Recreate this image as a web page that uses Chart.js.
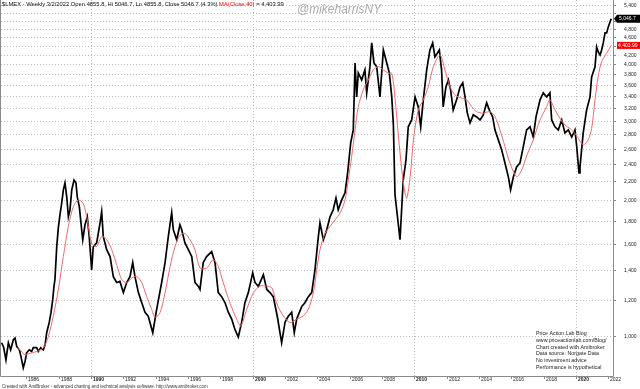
<!DOCTYPE html>
<html>
<head>
<meta charset="utf-8">
<script src="https://cdn.jsdelivr.net/npm/chart.js@4.4.1/dist/chart.umd.min.js"></script>
<style>
  html, body { margin: 0; padding: 0; background: #fff; }
  canvas { display: block; }
</style>
</head>
<body>
<canvas id="lmex-chart" width="640" height="389"></canvas>
<script>
// $LMEX weekly close, decimal years
const priceDates = [
  1984.47, 1984.59, 1984.74, 1984.89, 1985.03, 1985.20, 1985.30, 1985.41, 1985.57, 1985.67,
  1985.81, 1985.92, 1986.02, 1986.18, 1986.33, 1986.43, 1986.64, 1986.74, 1986.89, 1987.05,
  1987.16, 1987.26, 1987.42, 1987.53, 1987.63, 1987.71, 1987.77, 1987.88, 1987.98, 1988.08,
  1988.19, 1988.29, 1988.39, 1988.50, 1988.60, 1988.70, 1988.81, 1988.95, 1989.07, 1989.15,
  1989.28, 1989.36, 1989.49, 1989.63, 1989.77, 1989.89, 1990.04, 1990.14, 1990.35, 1990.56,
  1990.66, 1990.76, 1990.97, 1991.18, 1991.38, 1991.59, 1991.79, 1992.00, 1992.21, 1992.41,
  1992.58, 1992.72, 1992.93, 1993.14, 1993.34, 1993.54, 1993.82, 1994.06, 1994.37, 1994.58,
  1994.78, 1994.99, 1995.09, 1995.30, 1995.50, 1995.61, 1995.81, 1996.02, 1996.23, 1996.43,
  1996.64, 1996.74, 1996.94, 1997.15, 1997.46, 1997.67, 1997.87, 1998.08, 1998.29, 1998.49,
  1998.70, 1998.90, 1999.11, 1999.32, 1999.52, 1999.73, 2000.00, 2000.14, 2000.35, 2000.66,
  2000.87, 2001.07, 2001.27, 2001.52, 2001.79, 2002.00, 2002.20, 2002.41, 2002.57, 2002.72,
  2003.03, 2003.23, 2003.44, 2003.65, 2003.85, 2004.06, 2004.16, 2004.37, 2004.58, 2004.78,
  2004.98, 2005.15, 2005.29, 2005.50, 2005.71, 2005.87, 2006.06, 2006.22, 2006.33, 2006.43,
  2006.53, 2006.74, 2006.94, 2007.05, 2007.25, 2007.36, 2007.50, 2007.67, 2007.87, 2008.08,
  2008.29, 2008.45, 2008.60, 2008.70, 2008.80, 2008.94, 2009.11, 2009.22, 2009.31, 2009.48,
  2009.62, 2009.83, 2010.04, 2010.24, 2010.39, 2010.55, 2010.76, 2010.96, 2011.13, 2011.27,
  2011.54, 2011.68, 2011.78, 2011.95, 2012.10, 2012.24, 2012.40, 2012.61, 2012.82, 2012.99,
  2013.13, 2013.27, 2013.44, 2013.64, 2013.85, 2014.06, 2014.26, 2014.47, 2014.63, 2014.84,
  2014.98, 2015.19, 2015.40, 2015.60, 2015.81, 2015.95, 2016.12, 2016.32, 2016.53, 2016.73,
  2016.94, 2017.15, 2017.35, 2017.52, 2017.77, 2017.97, 2018.18, 2018.38, 2018.49, 2018.69,
  2018.90, 2019.11, 2019.31, 2019.52, 2019.73, 2019.93, 2020.04, 2020.18, 2020.24, 2020.44,
  2020.65, 2020.86, 2020.96, 2021.17, 2021.27, 2021.37, 2021.48, 2021.58, 2021.68, 2021.79,
  2021.89, 2021.99, 2022.17
];
const priceValues = [
  966, 947, 885, 966, 932, 981, 990, 947, 932, 900,
  850, 878, 918, 932, 924, 942, 942, 924, 942, 932,
  956, 1017, 1073, 1129, 1202, 1288, 1334, 1576, 1738, 1856,
  1972, 2108, 2183, 2033, 1837, 1904, 2108, 2216, 2183, 2033,
  1933, 1808, 1634, 1764, 1837, 1660, 1400, 1576, 1608, 1781,
  1885, 1660, 1553, 1500, 1354, 1314, 1321, 1248, 1314, 1354,
  1454, 1354, 1248, 1185, 1129, 1106, 1017, 1146, 1314, 1454,
  1660, 1875, 1720, 1634, 1764, 1720, 1608, 1553, 1500, 1314,
  1288, 1268, 1454, 1500, 1538, 1454, 1248, 1222, 1185, 1129,
  1090, 1034, 995, 1073, 1185, 1248, 1380, 1314, 1288, 1367,
  1268, 1248, 1222, 1106, 966, 1073, 1106, 1129, 1017, 1090,
  1162, 1185, 1222, 1248, 1400, 1660, 1781, 1634, 1720, 1837,
  1904, 2022, 1904, 2000, 2076, 2299, 2679, 2862, 4027, 3386,
  3828, 3694, 3887, 3457, 3947, 4460, 4027, 3947, 3386, 4303,
  4027, 3828, 3386, 2936, 2055, 1856, 1634, 1933, 2216, 2456,
  2907, 3011, 3386, 3217, 2907, 3336, 3887, 4303, 4460, 4152,
  4303, 3887, 3217, 3562, 3694, 3506, 3169, 3336, 3562, 3638,
  3386, 3121, 2966, 3090, 3058, 3011, 3090, 3285, 3169, 3058,
  2862, 2720, 2583, 2418, 2252, 2108, 2252, 2369, 2418, 2623,
  2862, 2907, 2760, 3058, 3336, 3457, 3386, 3457, 3011, 2907,
  2862, 3011, 2818, 2862, 2760, 2862, 2623, 2299, 2367, 2818,
  3169, 3386, 3750, 3947, 4368, 4259, 4194, 4303, 4460, 4694,
  4694, 4840, 5046.7
];

// MA(Close,40)
const maDates = [
  1985.41, 1985.61, 1985.92, 1986.23, 1986.64, 1987.05, 1987.36, 1987.67, 1987.98, 1988.29,
  1988.60, 1988.91, 1989.21, 1989.52, 1989.77, 1990.04, 1990.35, 1990.66, 1990.97, 1991.28,
  1991.59, 1991.90, 1992.21, 1992.52, 1992.83, 1993.14, 1993.44, 1993.75, 1993.96, 1994.27,
  1994.58, 1994.89, 1995.20, 1995.50, 1995.81, 1996.12, 1996.43, 1996.74, 1997.15, 1997.56,
  1997.87, 1998.18, 1998.60, 1999.01, 1999.26, 1999.63, 2000.04, 2000.45, 2000.87, 2001.18,
  2001.48, 2001.89, 2002.31, 2002.72, 2003.13, 2003.44, 2003.75, 2003.96, 2004.16, 2004.47,
  2004.78, 2005.09, 2005.40, 2005.71, 2005.91, 2006.12, 2006.33, 2006.53, 2006.84, 2007.15,
  2007.46, 2007.77, 2008.08, 2008.39, 2008.60, 2008.80, 2009.00, 2009.22, 2009.42, 2009.53,
  2009.74, 2009.94, 2010.24, 2010.55, 2010.86, 2011.17, 2011.58, 2011.89, 2012.20, 2012.51,
  2012.92, 2013.23, 2013.54, 2013.85, 2014.26, 2014.67, 2014.98, 2015.29, 2015.60, 2015.91,
  2016.33, 2016.64, 2016.94, 2017.35, 2017.77, 2018.18, 2018.38, 2018.69, 2019.00, 2019.31,
  2019.62, 2019.93, 2020.20, 2020.44, 2020.75, 2020.96, 2021.17, 2021.37, 2021.58, 2021.89,
  2022.17
];
const maValues = [
  941, 932, 908, 916, 924, 941, 996, 1108, 1268, 1500,
  1749, 1936, 2001, 1966, 1808, 1605, 1579, 1662, 1634, 1553,
  1438, 1334, 1312, 1345, 1356, 1312, 1224, 1146, 1100, 1127,
  1246, 1425, 1579, 1672, 1686, 1634, 1553, 1415, 1413, 1477,
  1425, 1312, 1182, 1090, 1052, 1146, 1246, 1290, 1290, 1279,
  1182, 1108, 1071, 1090, 1108, 1146, 1246, 1400, 1553, 1686,
  1749, 1808, 1872, 2001, 2216, 2498, 2862, 3222, 3511, 3694,
  3887, 3955, 3887, 3820, 3820, 3370, 2803, 2334, 2073, 2019,
  2255, 2720, 3169, 3336, 3568, 3950, 4194, 3887, 3568, 3420,
  3364, 3336, 3222, 3141, 3116, 3141, 3064, 2862, 2628, 2414,
  2255, 2334, 2506, 2720, 3011, 3222, 3336, 3169, 3038, 2934,
  2882, 2811, 2720, 2652, 2720, 2882, 3336, 3770, 4054, 4234,
  4403.99
];

// axis labels
const yTickValues = [1000, 1200, 1400, 1600, 1800, 2000, 2200, 2400, 2600, 2800, 3000,
  3200, 3400, 3600, 3800, 4000, 4200, 4400, 4600, 4800, 5000, 5200, 5400];
const xTickYears = [1986, 1988, 1990, 1992, 1994, 1996, 1998, 2000, 2002, 2004, 2006,
  2008, 2010, 2012, 2014, 2016, 2018, 2020, 2022];

const lastClose = 5046.7;
const lastMA = 4403.99;

const titleMain = '$LMEX - Weekly 3/2/2022 Open 4855.8, Hi 5046.7, Lo 4855.8, Close 5046.7 (4.3%) ';
const titleMA = 'MA(Close,40)';
const titleMAValue = ' = 4,403.99';
const infoLines = [
  'Price Action Lab Blog',
  'www.priceactionlab.com/Blog/',
  'Chart created with Amibroker',
  'Data source: Norgate Data',
  'No investment advice',
  'Performance is hypothetical'
];
const footerText = 'Created with AmiBroker - advanced charting and technical analysis software. http://www.amibroker.com';

const FONT = '"Liberation Sans", Arial, sans-serif';

function fmtThousands(v) {
  return v.toLocaleString('en-US');
}

// grid lines behind the data
const gridPlugin = {
  id: 'amiGrid',
  beforeDatasetsDraw(chart) {
    const { ctx, chartArea: a, scales: { x, y } } = chart;
    ctx.save();
    ctx.strokeStyle = '#bdbdbd';
    ctx.lineWidth = 1;
    ctx.setLineDash([1, 2]);
    yTickValues.forEach(v => {
      const py = Math.round(y.getPixelForValue(v)) + 0.5;
      ctx.beginPath();
      ctx.moveTo(a.left, py);
      ctx.lineTo(a.right, py);
      ctx.stroke();
    });
    xTickYears.filter(yr => yr % 10 === 0).forEach(yr => {
      const px = Math.round(x.getPixelForValue(yr)) + 0.5;
      ctx.beginPath();
      ctx.moveTo(px, a.top);
      ctx.lineTo(px, a.bottom);
      ctx.stroke();
    });
    ctx.restore();
  }
};

// axes, labels, value boxes and texts
const decorPlugin = {
  id: 'amiDecor',
  afterDraw(chart) {
    const { ctx, chartArea: a, scales: { x, y } } = chart;
    ctx.save();

    // frame
    ctx.strokeStyle = '#8a8a8a';
    ctx.lineWidth = 1;
    ctx.beginPath();
    ctx.moveTo(0.5, a.top);
    ctx.lineTo(0.5, a.bottom + 0.5);
    ctx.lineTo(a.right + 0.5, a.bottom + 0.5);
    ctx.lineTo(a.right + 0.5, a.top);
    ctx.stroke();

    // year ticks + labels
    ctx.textBaseline = 'middle';
    ctx.textAlign = 'left';
    ctx.fillStyle = '#222';
    xTickYears.forEach(yr => {
      const px = Math.round(x.getPixelForValue(yr)) + 0.5;
      ctx.beginPath();
      ctx.moveTo(px, a.bottom + 1);
      ctx.lineTo(px, a.bottom + 3);
      ctx.stroke();
      ctx.font = (yr % 10 === 0 ? 'bold ' : '') + '5px ' + FONT;
      ctx.fillText(String(yr), px + 1.5, a.bottom + 3.5);
    });

    // price ticks + labels
    const closeY = y.getPixelForValue(lastClose);
    const maY = y.getPixelForValue(lastMA);
    ctx.font = '5px ' + FONT;
    yTickValues.forEach(v => {
      const py = Math.round(y.getPixelForValue(v)) + 0.5;
      ctx.beginPath();
      ctx.moveTo(a.right + 1, py);
      ctx.lineTo(a.right + 3, py);
      ctx.stroke();
      if (Math.abs(py - closeY) < 6 || Math.abs(py - maY) < 6) return;
      ctx.fillText(fmtThousands(v), a.right + 11, py);
    });

    // last close box (black, arrow)
    ctx.fillStyle = '#000';
    ctx.beginPath();
    ctx.moveTo(a.right + 1, closeY);
    ctx.lineTo(a.right + 4, closeY - 4);
    ctx.lineTo(640, closeY - 4);
    ctx.lineTo(640, closeY + 4);
    ctx.lineTo(a.right + 4, closeY + 4);
    ctx.closePath();
    ctx.fill();
    ctx.fillStyle = '#fff';
    ctx.font = '5px ' + FONT;
    ctx.fillText('5,046.7', a.right + 6, closeY + 0.3);

    // last MA box (red)
    ctx.fillStyle = '#ff0000';
    ctx.fillRect(a.right + 4, maY - 3.5, 640 - a.right - 4, 7);
    ctx.fillStyle = '#fff';
    ctx.fillText('4,403.99', a.right + 5, maY + 0.3);

    // title
    ctx.font = '5.8px ' + FONT;
    ctx.fillStyle = '#111';
    let tx = 2;
    ctx.fillText(titleMain, tx, 4.8);
    tx += ctx.measureText(titleMain).width;
    ctx.fillStyle = '#e60000';
    ctx.fillText(titleMA, tx, 4.8);
    tx += ctx.measureText(titleMA).width;
    ctx.fillStyle = '#111';
    ctx.fillText(titleMAValue, tx, 4.8);

    // watermark
    ctx.font = 'italic 12px ' + FONT;
    ctx.fillStyle = '#aaaaaa';
    ctx.fillText('@mikeharrisNY', 297, 10);

    // info block
    ctx.font = '5.3px ' + FONT;
    ctx.fillStyle = '#222';
    infoLines.forEach((t, i) => ctx.fillText(t, 536, 334 + i * 6.67));

    // footer
    ctx.font = '4.5px ' + FONT;
    ctx.fillStyle = '#333';
    ctx.fillText(footerText, 2, 386.7);

    ctx.restore();
  }
};

const ctx = document.getElementById('lmex-chart');
new Chart(ctx, {
  type: 'line',
  data: {
    datasets: [
      {
        label: 'MA(Close,40)',
        data: maDates.map((d, i) => ({ x: d, y: maValues[i] })),
        borderColor: '#f06a6a',
        borderWidth: 1,
        pointRadius: 0,
        tension: 0.3,
        order: 0
      },
      {
        label: '$LMEX',
        data: priceDates.map((d, i) => ({ x: d, y: priceValues[i] })),
        borderColor: '#000',
        borderWidth: 1.7,
        pointRadius: 0,
        tension: 0,
        order: 1
      }
    ]
  },
  options: {
    responsive: false,
    animation: false,
    devicePixelRatio: 1,
    layout: { padding: { left: 1, right: 27, top: 0, bottom: 13 } },
    plugins: {
      legend: { display: false },
      tooltip: { enabled: false }
    },
    scales: {
      x: { type: 'linear', display: false, min: 1984.434, max: 2022.282 },
      y: { type: 'logarithmic', display: false, min: 815.4, max: 5552 }
    }
  },
  plugins: [gridPlugin, decorPlugin]
});
</script>
</body>
</html>
